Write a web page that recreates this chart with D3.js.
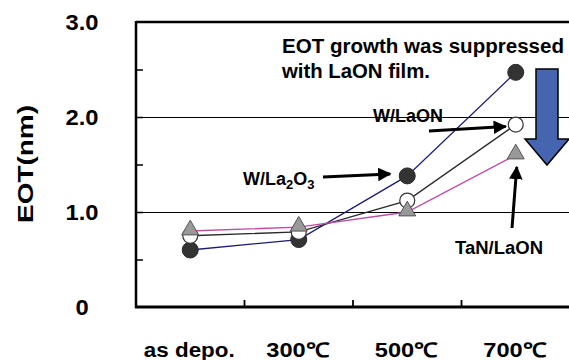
<!DOCTYPE html>
<html>
<head>
<meta charset="utf-8">
<script src="https://cdn.jsdelivr.net/npm/d3@7"></script>
<style>
  html, body { margin: 0; padding: 0; background: #fff; }
  svg { display: block; font-family: "Liberation Sans", Arial, sans-serif; font-weight: bold; }
</style>
</head>
<body>
<svg id="chart" width="569" height="360"></svg>
<script>
// Annealing conditions along the x axis
const categories = ["as depo.", "300℃", "500℃", "700℃"];
// EOT (nm) for each gate stack
const wLa2O3 = [0.60, 0.71, 1.38, 2.47];
const wLaON = [0.75, 0.79, 1.12, 1.92];
const tanLaON = [0.80, 0.84, 1.00, 1.60];
// Y axis labels
const yLabelValues = [0, 1, 2, 3];
const yLabelTexts = ["0", "1.0", "2.0", "3.0"];
const minorTicks = [0.5, 1, 1.5, 2, 2.5];
const gridValues = [1, 2];

const svg = d3.select("#chart");
const plotLeft = 136, plotRight = 570, plotTop = 22, plotBottom = 307;

const x = d3.scaleBand().domain(categories).range([plotLeft, plotRight]);
const y = d3.scaleLinear().domain([0, 3]).range([plotBottom, plotTop]);
const cx = c => x(c) + x.bandwidth() / 2;

// gridlines
svg.append("g").selectAll("line").data(gridValues).join("line")
  .attr("x1", plotLeft).attr("x2", 569)
  .attr("y1", d => y(d) + 0.5).attr("y2", d => y(d) + 0.5)
  .attr("stroke", "#000").attr("stroke-width", 1);

// frame: top, left, bottom
svg.append("line").attr("x1", plotLeft).attr("x2", 569).attr("y1", plotTop).attr("y2", plotTop)
  .attr("stroke", "#000").attr("stroke-width", 2.5);
svg.append("line").attr("x1", plotLeft).attr("x2", plotLeft).attr("y1", plotTop - 1).attr("y2", plotBottom + 1)
  .attr("stroke", "#000").attr("stroke-width", 2.5);
svg.append("line").attr("x1", plotLeft - 1).attr("x2", 569).attr("y1", plotBottom).attr("y2", plotBottom)
  .attr("stroke", "#000").attr("stroke-width", 3);

// inward ticks on the y axis
svg.append("g").selectAll("line").data(minorTicks).join("line")
  .attr("x1", plotLeft).attr("x2", plotLeft + 7)
  .attr("y1", d => y(d) + 0.5).attr("y2", d => y(d) + 0.5)
  .attr("stroke", "#000").attr("stroke-width", 1.5);

// inward ticks between categories on the x axis
svg.append("g").selectAll("line").data(categories.slice(1)).join("line")
  .attr("x1", d => x(d)).attr("x2", d => x(d))
  .attr("y1", plotBottom).attr("y2", plotBottom - 7)
  .attr("stroke", "#000").attr("stroke-width", 1.8);

// y tick labels
svg.append("g").selectAll("text").data(yLabelValues).join("text")
  .attr("x", 82).attr("y", d => y(d) + 8)
  .attr("text-anchor", "middle").attr("font-size", 22)
  .attr("transform", d => `translate(${82 * -0.08},0) scale(1.08,1)`)
  .text((d, i) => yLabelTexts[i]);

// y axis title
svg.append("text")
  .attr("transform", "translate(33,164) rotate(-90)")
  .attr("text-anchor", "middle").attr("font-size", 22)
  .attr("textLength", 118).attr("lengthAdjust", "spacingAndGlyphs")
  .text("EOT(nm)");

// x category labels
const xLabelWidths = [91, 63, 63, 63];
svg.append("g").selectAll("text").data(categories).join("text")
  .attr("x", d => cx(d) - 1).attr("y", 357)
  .attr("text-anchor", "middle").attr("font-size", 20)
  .attr("textLength", (d, i) => xLabelWidths[i]).attr("lengthAdjust", "spacingAndGlyphs")
  .text(d => d);

const line = d3.line().x((d, i) => cx(categories[i])).y(d => y(d));

// series lines
svg.append("path").datum(wLa2O3).attr("d", line)
  .attr("fill", "none").attr("stroke", "#1c1c78").attr("stroke-width", 1.3);
svg.append("path").datum(wLaON).attr("d", line)
  .attr("fill", "none").attr("stroke", "#2a2a2a").attr("stroke-width", 1.3);
svg.append("path").datum(tanLaON).attr("d", line)
  .attr("fill", "none").attr("stroke", "#c04aa8").attr("stroke-width", 1.3);

// markers
svg.append("g").selectAll("circle").data(wLa2O3).join("circle")
  .attr("cx", (d, i) => cx(categories[i])).attr("cy", d => y(d)).attr("r", 8)
  .attr("fill", "#333").attr("stroke", "#2a2a2a").attr("stroke-width", 1);
svg.append("g").selectAll("circle").data(wLaON).join("circle")
  .attr("cx", (d, i) => cx(categories[i])).attr("cy", d => y(d)).attr("r", 7.5)
  .attr("fill", "#fff").attr("stroke", "#333").attr("stroke-width", 1.2);
const tri = d3.symbol().type(d3.symbolTriangle).size(125);
svg.append("g").selectAll("path").data(tanLaON).join("path")
  .attr("d", tri)
  .attr("transform", (d, i) => `translate(${cx(categories[i])},${y(d) - 1})`)
  .attr("fill", "#999").attr("stroke", "#555").attr("stroke-width", 1);

// annotation arrows
svg.append("defs").append("marker")
  .attr("id", "head").attr("viewBox", "0 0 10 10").attr("refX", 9).attr("refY", 5)
  .attr("markerWidth", 4.5).attr("markerHeight", 4.5).attr("orient", "auto")
  .append("path").attr("d", "M0,0L10,5L0,10Z").attr("fill", "#000");

function arrow(x1, y1, x2, y2) {
  svg.append("line").attr("x1", x1).attr("y1", y1).attr("x2", x2).attr("y2", y2)
    .attr("stroke", "#000").attr("stroke-width", 3).attr("marker-end", "url(#head)");
}
arrow(323, 177, cx(categories[2]) - 17, y(wLa2O3[2]) - 2);
arrow(429, 131, cx(categories[3]) - 10, y(wLaON[3]) + 2);
arrow(512, 228, cx(categories[3]) + 1, y(tanLaON[3]) + 12);

// annotation labels
const note = svg.append("g").attr("font-size", 20);
note.append("text").attr("x", 282).attr("y", 53)
  .attr("textLength", 282).attr("lengthAdjust", "spacingAndGlyphs")
  .text("EOT growth was suppressed");
note.append("text").attr("x", 282).attr("y", 78)
  .attr("textLength", 148).attr("lengthAdjust", "spacingAndGlyphs")
  .text("with LaON film.");

svg.append("text").attr("x", 373).attr("y", 122).attr("font-size", 18)
  .attr("textLength", 70).attr("lengthAdjust", "spacingAndGlyphs").text("W/LaON");
const la = svg.append("text").attr("x", 243).attr("y", 185).attr("font-size", 18);
la.append("tspan").text("W/La");
la.append("tspan").attr("font-size", 13).attr("dy", 4).text("2");
la.append("tspan").attr("dy", -4).text("O");
la.append("tspan").attr("font-size", 13).attr("dy", 4).text("3");
svg.append("text").attr("x", 455).attr("y", 254).attr("font-size", 18)
  .attr("textLength", 88).attr("lengthAdjust", "spacingAndGlyphs").text("TaN/LaON");

// big downward arrow
svg.append("path")
  .attr("d", "M536,69 L558,69 L558,139 L569,139 L547,165 L525,139 L536,139 Z")
  .attr("fill", "#4565b0").attr("stroke", "#000").attr("stroke-width", 1.5)
  .attr("stroke-linejoin", "miter");
</script>
</body>
</html>
